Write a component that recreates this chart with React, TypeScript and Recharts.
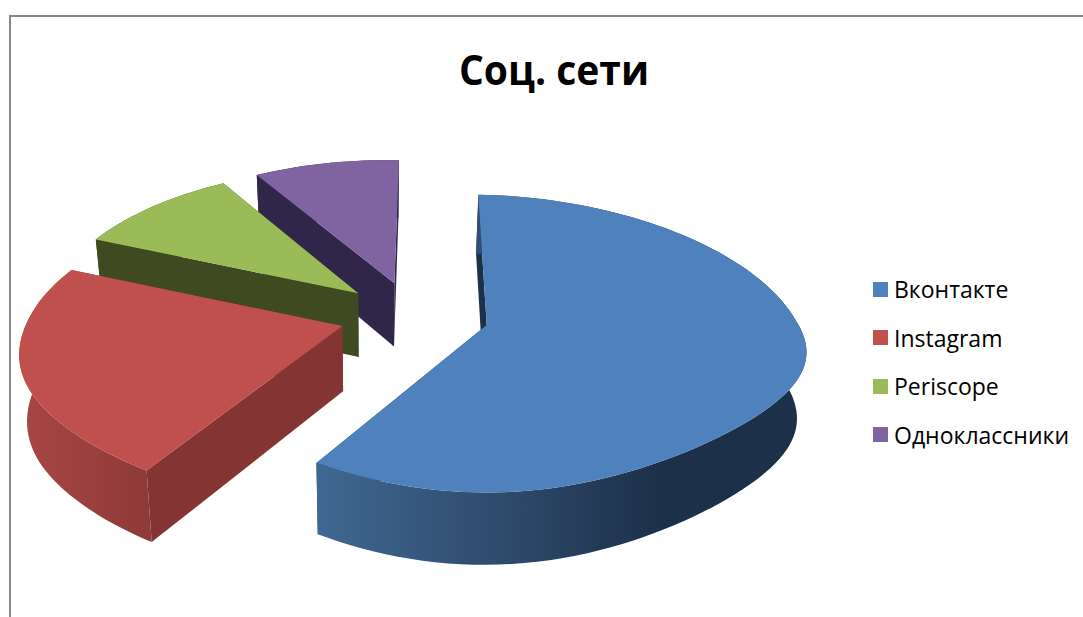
import React from "react";
import { PieChart, Pie, Legend } from "recharts";

const categories = ["Вконтакте", "Instagram", "Periscope", "Одноклассники"];
const shares = [58, 23, 10, 9];
const topColors = ["#4f81bd", "#c0504d", "#9bbb59", "#8064a2"];
const radialColors = ["#1c3049", "#843533", "#3f4a20", "#30264a"];
const wallStops = [
    [["0%", "#406892"], ["45%", "#2b4565"], ["70%", "#1c3049"], ["100%", "#1c3049"]],
    [["0%", "#a84644"], ["100%", "#8e3a38"]],
    [["0%", "#3f4a20"], ["100%", "#3f4a20"]],
    [["0%", "#30264a"], ["100%", "#30264a"]],
];

// drawn back to front, so the table runs the other way round the circle
const table = categories
    .map((name, i) => ({ name, value: shares[i], fill: topColors[i], idx: i }))
    .reverse();

const EXPLODE = 0.24;
const XP = 0.165;
const DEPTH = 0.208;
const FONT = "'Open Sans', sans-serif";

// the reference's tilt is not a clean perspective, back and front differ
const squash = (v: number) =>
    v < 0 ? (0.466 * v) / (1 - 0.12 * v) : 0.434 * v + 0.085 * Math.pow(v, 4.8);
const shear = (v: number) => (v < 0 ? -0.007 * v : -0.017 * v);
const tilt = (v: number) => (v < 0 ? 0.016 : 0.016 - 0.035 * v);

function project(cx: number, cy: number, r: number, u: number, v: number, h: number) {
    const x = cx + (r * u + shear(v) * r) / (1 - XP * v);
    const y = cy + tilt(v) * r * u + r * squash(v);
    const vanish = cx - 39;
    return [
        x + (vanish - x) * 0.022 * h,
        y + (h * DEPTH * r) / (1 - 0.1 * v),
    ];
}

const toPath = (pts: number[][]) =>
    "M" + pts.map((p) => `${p[0].toFixed(2)},${p[1].toFixed(2)}`).join("L") + "Z";

function Slice3D(props: any) {
    const { cx, cy, outerRadius: r, startAngle, endAngle, payload } = props;
    const idx = payload.idx;
    const rad = Math.PI / 180;
    const mid = ((startAngle + endAngle) / 2) * rad;
    const ox = Math.cos(mid) * EXPLODE;
    const oy = -Math.sin(mid) * EXPLODE;

    const rim: number[][] = [];
    const steps = Math.ceil(Math.abs(endAngle - startAngle) / 2);
    for (let i = 0; i <= steps; i++) {
        const a = (startAngle + ((endAngle - startAngle) * i) / steps) * rad;
        rim.push([ox + Math.cos(a), oy - Math.sin(a)]);
    }
    const at = (p: number[], h: number) => project(cx, cy, r, p[0], p[1], h);
    const apex = [ox, oy];
    const first = rim[0];
    const last = rim[rim.length - 1];
    const gradId = `wall-${idx}`;

    return (
        <g>
            <defs>
                <linearGradient id={gradId} x1="0" y1="0" x2="1" y2="0">
                    {wallStops[idx].map((s) => (
                        <stop key={s[0]} offset={s[0]} stopColor={s[1]} />
                    ))}
                </linearGradient>
            </defs>
            <path
                d={toPath([at(apex, 0), at(first, 0), at(first, 1), at(apex, 1)])}
                fill={radialColors[idx]}
            />
            <path
                d={toPath([at(apex, 0), at(last, 0), at(last, 1), at(apex, 1)])}
                fill={radialColors[idx]}
            />
            <path
                d={toPath([
                    ...rim.map((p) => at(p, 0)),
                    ...[...rim].reverse().map((p) => at(p, 1)),
                ])}
                fill={`url(#${gradId})`}
            />
            <path
                d={toPath([at(apex, 0), ...rim.map((p) => at(p, 0))])}
                fill={topColors[idx]}
            />
        </g>
    );
}

function LegendList() {
    return (
        <div>
            {categories.map((name, i) => (
                <div
                    key={name}
                    style={{
                        display: "flex",
                        alignItems: "center",
                        height: 48.5,
                        fontFamily: FONT,
                        fontSize: 23,
                        color: "#000",
                    }}
                >
                    <span
                        style={{
                            width: 15,
                            height: 15,
                            marginRight: 6,
                            background: topColors[i],
                        }}
                    />
                    {name}
                </div>
            ))}
        </div>
    );
}

export default function App() {
    return (
        <div style={{ position: "absolute", left: 0, top: 0, width: 1083, height: 617, overflow: "hidden", background: "#fff" }}>
            <div
                style={{
                    position: "absolute",
                    left: 9,
                    top: 15,
                    width: 1080,
                    height: 610,
                    borderTop: "2px solid #868686",
                    borderLeft: "2px solid #868686",
                }}
            />
            <PieChart width={1083} height={617} margin={{ top: 0, right: 0, bottom: 0, left: 0 }}>
                <text
                    x={554}
                    y={85}
                    textAnchor="middle"
                    fontFamily={FONT}
                    fontWeight={700}
                    fontSize={42}
                    textLength={190}
                    lengthAdjust="spacingAndGlyphs"
                    fill="#000"
                >
                    Соц. сети
                </text>
                <Pie
                    data={table}
                    dataKey="value"
                    nameKey="name"
                    cx={414}
                    cy={316}
                    outerRadius={311}
                    startAngle={90}
                    endAngle={450}
                    stroke="none"
                    isAnimationActive={false}
                    shape={Slice3D}
                />
                <Legend
                    content={<LegendList />}
                    layout="vertical"
                    wrapperStyle={{ position: "absolute", left: 873, top: 265, width: 210, bottom: "auto" }}
                />
            </PieChart>
        </div>
    );
}
